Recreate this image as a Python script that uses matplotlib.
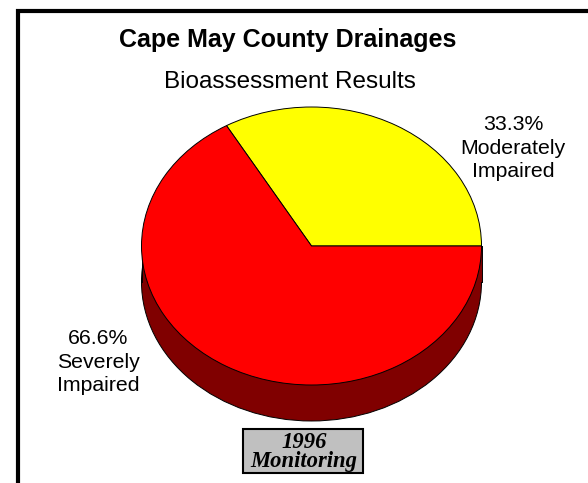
import matplotlib
matplotlib.use("Agg")
import matplotlib.pyplot as plt
from matplotlib.patches import Ellipse, Rectangle
from matplotlib.lines import Line2D

# data
categories = ["Moderately\nImpaired", "Severely\nImpaired"]
values = [33.3, 66.6]
colors = ["#ffff00", "#ff0000"]
side_color = "#800000"

title = "Cape May County Drainages"
subtitle = "Bioassessment Results"
note = "1996\nMonitoring"

W, H = 588, 483
fig = plt.figure(figsize=(W / 100, H / 100), dpi=100)
fig.patch.set_facecolor("white")

# pie geometry (pixels): centre, radii, depth of the 3d side
cx, cy = 311.5, H - 246
rx, ry = 170.0, 139.0
depth = 36.0 / ry

ax = fig.add_axes([0, 0, 1, 1])
wedges, _ = ax.pie(values, colors=colors, startangle=0, counterclock=True,
                   wedgeprops=dict(edgecolor="black", linewidth=0.7), radius=1)
for w in wedges:
    w.set_zorder(3)
ax.set_aspect("auto")
ax.set_xlim(-cx / rx, (W - cx) / rx)
ax.set_ylim(-cy / ry, (H - cy) / ry)
ax.axis("off")

# 3d side of the pie
ax.add_patch(Ellipse((0, -depth), 2, 2, facecolor=side_color,
                     edgecolor="black", linewidth=0.7, zorder=1))
ax.add_patch(Rectangle((-1, -depth), 2, depth, facecolor=side_color,
                       edgecolor="none", zorder=2))
ax.plot([-1, -1], [-depth, 0], color="black", lw=0.7, zorder=2.5)
ax.plot([1, 1], [-depth, 0], color="black", lw=0.7, zorder=2.5)

sans = ["Liberation Sans", "DejaVu Sans"]
serif = ["Liberation Serif", "DejaVu Serif"]

def fx(px):
    return px / W

def fy(py):
    return (H - py) / H

fig.text(fx(288), fy(40), title, family=sans, weight="bold", fontsize=18,
         ha="center", va="center")
fig.text(fx(289.5), fy(82), subtitle, family=sans, fontsize=17.5,
         ha="center", va="center")

# slice labels
fig.text(fx(513), fy(148), f"{values[0]:.1f}%\n{categories[0]}", family=sans,
         fontsize=15.3, ha="center", va="center", linespacing=1.3)
fig.text(fx(98), fy(362), f"{values[1]:.1f}%\n{categories[1]}", family=sans,
         fontsize=15.3, ha="center", va="center", linespacing=1.3)

# note box
fig.patches.append(Rectangle((fx(243), fy(473)), 120 / W, 44 / H,
                             transform=fig.transFigure, facecolor="#c0c0c0",
                             edgecolor="black", linewidth=1.5))
fig.text(fx(304), fy(452), note, family=serif, style="italic", weight="bold",
         fontsize=16.3, ha="center", va="center", linespacing=0.87)

# frame (only left and top edges are visible)
fig.lines.append(Line2D([fx(18), fx(18), 1.01], [-0.01, fy(11), fy(11)],
                        transform=fig.transFigure, color="black", lw=3,
                        solid_joinstyle="miter"))

fig.savefig("out.png", dpi=100)
